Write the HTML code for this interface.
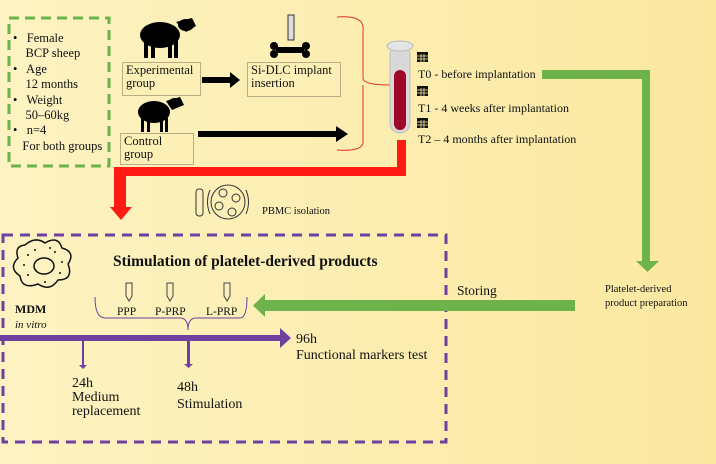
<!DOCTYPE html>
<html><head><meta charset="utf-8"><style>
body{margin:0}
.c{position:relative;width:716px;height:464px;overflow:hidden;background:linear-gradient(90deg,#fdf3c2,#fbe8a0);font-family:"Liberation Serif",serif;color:#111}
.t{position:absolute;white-space:nowrap;font-size:12px;line-height:14px}
.b{position:absolute;border:1px solid #b9ad85;background:#fdf0b6}
svg{position:absolute;left:0;top:0}
</style></head><body><div class="c">
<svg width="716" height="464">
<rect x="9" y="18" width="100" height="148" fill="none" stroke="#6db24a" stroke-width="3" stroke-dasharray="10,6"/>
<rect x="3" y="235" width="443" height="207" fill="none" stroke="#7040a0" stroke-width="3" stroke-dasharray="10,7"/>
<g fill="#000">
<ellipse cx="160" cy="35" rx="20" ry="13"/><ellipse cx="186" cy="25" rx="8" ry="6"/><path d="M176 22 L192 18 L196 26 L186 32Z"/>
<rect x="144" y="40" width="4" height="18"/><rect x="151" y="40" width="4" height="18"/><rect x="168" y="40" width="4" height="18"/><rect x="174" y="40" width="4" height="18"/>
<ellipse cx="154" cy="112" rx="16" ry="11"/><ellipse cx="175" cy="103" rx="7" ry="5"/><path d="M166 101 L180 97 L184 105 L172 110Z"/>
<rect x="141" y="118" width="3" height="14"/><rect x="147" y="118" width="3" height="14"/><rect x="160" y="118" width="3" height="14"/><rect x="165" y="118" width="3" height="14"/>
<rect x="276" y="47" width="28" height="6"/><circle cx="274" cy="46" r="4"/><circle cx="274" cy="54" r="4"/><circle cx="306" cy="46" r="4"/><circle cx="306" cy="54" r="4"/>
<rect x="202" y="77" width="30" height="6"/><path d="M230 72 L240 80 L230 88Z"/>
<rect x="198" y="131" width="140" height="6"/><path d="M336 126 L348 134 L336 142Z"/>
</g>
<rect x="288" y="15" width="6" height="25" fill="#ddd" stroke="#333" stroke-width="1"/>
<path d="M337 17 Q365 15 363 30 L363 78 Q363 85 390 85 M363 85 Q363 92 363 100 L363 140 Q365 152 337 150" fill="none" stroke="#e8302a" stroke-width="1"/>
<rect x="390" y="45" width="20" height="88" rx="10" fill="#d8d8d8" stroke="#bbb"/>
<rect x="394" y="70" width="12" height="60" rx="6" fill="#a0082a"/>
<ellipse cx="400" cy="46" rx="13" ry="5" fill="#e4e4e4" stroke="#bbb"/>
<g fill="#111">
<rect x="417" y="52" width="11" height="10"/><rect x="417" y="86" width="11" height="10"/><rect x="417" y="118" width="11" height="10"/>
</g>
<g stroke="#fbe9a8" stroke-width="0.8">
<path d="M417 56 H428 M417 59 H428 M421 54 V62 M424 54 V62"/>
<path d="M417 90 H428 M417 93 H428 M421 88 V96 M424 88 V96"/>
<path d="M417 122 H428 M417 125 H428 M421 120 V128 M424 120 V128"/>
</g>
<path d="M397 140 L406 140 L406 176 L126 176 L126 208 L114 208 L114 167 L397 167Z" fill="#ff1a14"/>
<path d="M110 207 L132 207 L121 220Z" fill="#ff1a14"/>
<path d="M542 70 L650 70 L650 262 L642 262 L642 79 L542 79Z" fill="#6db24a"/>
<path d="M636 261 L659 261 L647.5 272Z" fill="#6db24a"/>
<rect x="263" y="300" width="312" height="11" fill="#6db24a"/>
<path d="M265 294 L253 305.5 L265 317Z" fill="#6db24a"/>
<g fill="none" stroke="#333" stroke-width="1">
<rect x="196" y="189" width="7" height="27" rx="3"/>
<circle cx="228" cy="202" r="17"/><circle cx="223" cy="193" r="4"/><circle cx="236" cy="198" r="4"/><circle cx="219" cy="206" r="4"/><circle cx="232" cy="212" r="4"/>
<path d="M210 190 Q205 202 210 214 M246 190 Q251 202 246 214"/>
</g>
<path d="M25 245 Q35 236 45 243 Q58 235 62 248 Q76 252 68 264 Q74 280 58 280 Q50 292 38 284 Q22 290 20 276 Q8 268 18 258 Q14 246 25 245Z" fill="none" stroke="#111" stroke-width="1.5"/>
<ellipse cx="44" cy="266" rx="10" ry="8" fill="none" stroke="#111" stroke-width="1.5"/>
<g fill="#111"><circle cx="28" cy="255" r="1"/><circle cx="35" cy="250" r="1"/><circle cx="55" cy="252" r="1"/><circle cx="62" cy="262" r="1"/><circle cx="60" cy="273" r="1"/><circle cx="28" cy="275" r="1"/><circle cx="24" cy="265" r="1"/><circle cx="45" cy="282" r="1"/><circle cx="50" cy="248" r="1"/></g>
<g fill="none" stroke="#444" stroke-width="1">
<path d="M126 283 L132 283 L132 296 L129 301 L126 296Z"/><path d="M167 283 L173 283 L173 296 L170 301 L167 296Z"/><path d="M224 283 L230 283 L230 296 L227 301 L224 296Z"/>
</g>
<path d="M95 297 Q95 318 105 318 L180 318 Q188 318 188 330 Q188 318 196 318 L240 318 Q247 318 247 297" fill="none" stroke="#7040a0" stroke-width="1"/>
<rect x="0" y="335" width="282" height="6" fill="#7040a0"/>
<path d="M280 328 L291 338 L280 348Z" fill="#7040a0"/>
<rect x="82" y="338" width="2" height="28" fill="#7040a0"/><path d="M79 365 L87 365 L83 369Z" fill="#7040a0"/>
<rect x="187" y="338" width="3" height="28" fill="#7040a0"/><path d="M184 364 L193 364 L188.5 368Z" fill="#7040a0"/>
</svg>
<div class="t" style="left:13px;top:31px;line-height:15.4px;font-size:12.5px">•&nbsp;&nbsp; Female<br>&nbsp;&nbsp;&nbsp;&nbsp;BCP sheep<br>•&nbsp;&nbsp; Age<br>&nbsp;&nbsp;&nbsp;&nbsp;12 months<br>•&nbsp;&nbsp; Weight<br>&nbsp;&nbsp;&nbsp;&nbsp;50–60kg<br>•&nbsp;&nbsp; n=4<br>&nbsp;&nbsp;&nbsp;For both groups</div>
<div class="b" style="left:122px;top:62px;width:77px;height:32px"></div>
<div class="t" style="left:126px;top:64px;font-size:12.5px;line-height:13px">Experimental<br>group</div>
<div class="b" style="left:247px;top:62px;width:92px;height:33px"></div>
<div class="t" style="left:251px;top:64px;font-size:12.5px;line-height:13px">Si-DLC implant<br>insertion</div>
<div class="b" style="left:120px;top:133px;width:72px;height:30px"></div>
<div class="t" style="left:124px;top:135px;font-size:12.5px;line-height:13px">Control<br>group</div>
<div class="t" style="left:418px;top:67px;font-size:12px">T0 - before implantation</div>
<div class="t" style="left:418px;top:101px;font-size:12px">T1 - 4 weeks after implantation</div>
<div class="t" style="left:418px;top:132px;font-size:12px">T2 – 4 months after implantation</div>
<div class="t" style="left:605px;top:283px;font-size:10.5px;line-height:14px">Platelet-derived<br>product preparation</div>
<div class="t" style="left:457px;top:284px;font-size:13.5px">Storing</div>
<div class="t" style="left:262px;top:205px;font-size:10.5px">PBMC isolation</div>
<div class="t" style="left:113px;top:255px;font-size:15.5px;font-weight:bold">Stimulation of platelet-derived products</div>
<div class="t" style="left:15px;top:302px;font-size:12px;font-weight:bold">MDM</div>
<div class="t" style="left:15px;top:318px;font-size:11px;font-style:italic">in vitro</div>
<div class="t" style="left:117px;top:305px;font-size:11.5px">PPP</div>
<div class="t" style="left:155px;top:305px;font-size:11.5px">P-PRP</div>
<div class="t" style="left:206px;top:305px;font-size:11.5px">L-PRP</div>
<div class="t" style="left:296px;top:332px;font-size:14px;line-height:16px">96h<br>Functional markers test</div>
<div class="t" style="left:72px;top:377px;line-height:14px;font-size:14px">24h<br>Medium<br>replacement</div>
<div class="t" style="left:177px;top:379px;line-height:17px;font-size:14px">48h<br>Stimulation</div>
</div></body></html>
